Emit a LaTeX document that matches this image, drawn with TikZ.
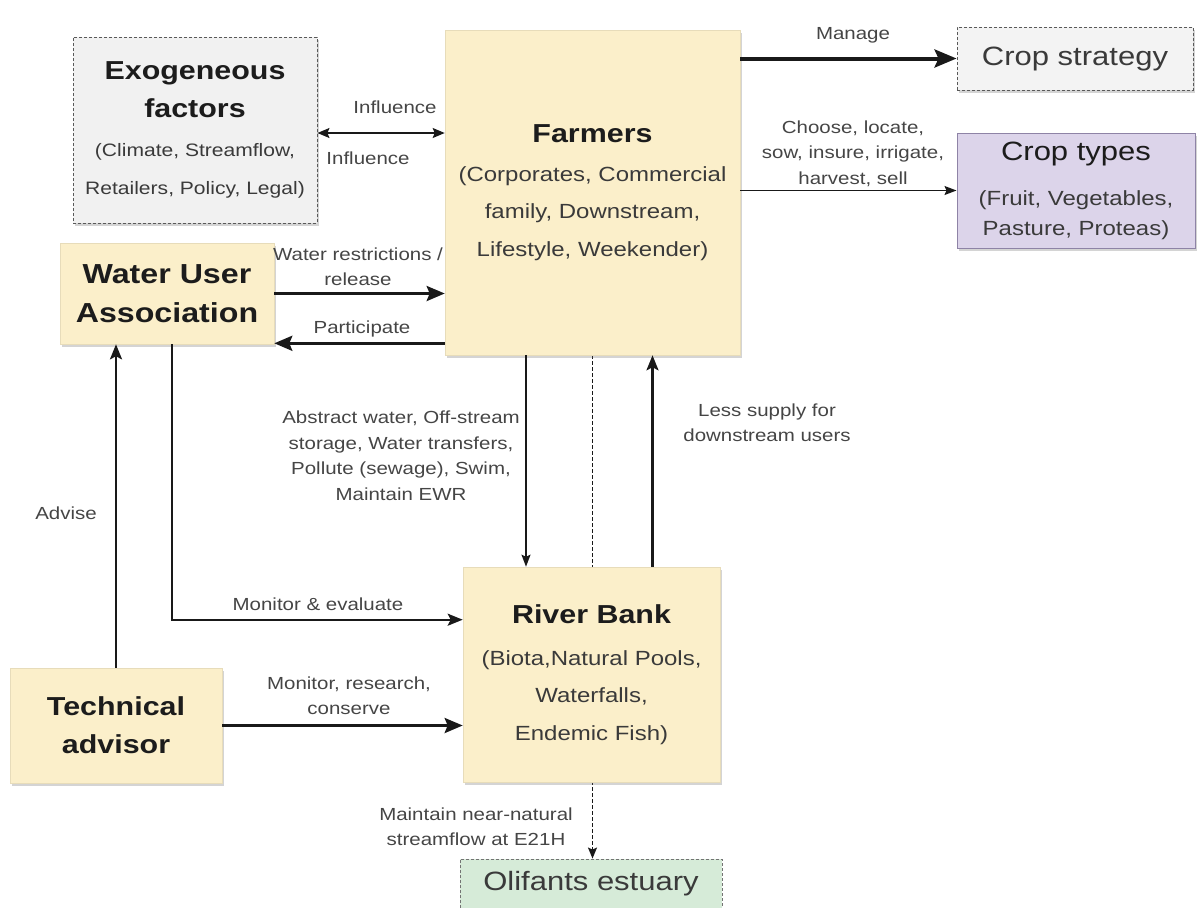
\documentclass[tikz,border=0pt]{standalone}
\usepackage{fontspec}
\setmainfont{Liberation Sans}[FakeStretch=1.17]
\usetikzlibrary{arrows.meta,calc,shadows,backgrounds}
\definecolor{boxyellow}{HTML}{FBEFCA}
\definecolor{boxgray}{HTML}{F1F1F1}
\definecolor{boxlilac}{HTML}{DCD4EA}
\definecolor{lilacline}{HTML}{8E83A6}
\definecolor{boxgreen}{HTML}{D6EBD8}
\definecolor{inktitle}{HTML}{1C1C1C}
\definecolor{inkbody}{HTML}{3A3A3A}
\definecolor{inklabel}{HTML}{454545}
\newcommand\ttlfont{\fontsize{26}{30}\selectfont\bfseries}
\newcommand\bigplain{\fontsize{26.5}{30}\selectfont}
\begin{document}
\begin{tikzpicture}[x=1pt,y=-1pt,
  box/.style={rectangle, inner sep=0pt, align=center, text=inkbody},
  shade box/.style={drop shadow={shadow xshift=2pt, shadow yshift=-3pt, opacity=0.28, fill=black!60}},
  yellowbox/.style={box, fill=boxyellow, draw=boxyellow!92!black, line width=0.6pt, shade box},
  dashbox/.style={box, draw=black!65, line width=0.9pt, dash pattern=on 3pt off 2pt, shade box},
  lbl/.style={text=inklabel, align=center, inner sep=0pt, font=\fontsize{17.5}{25.5}\selectfont},
  thin/.style={draw=black!90, line width=1.4pt, -{Stealth[length=12pt, width=9pt, inset=2pt]}},
  mid/.style={draw=black!90, line width=2.2pt, -{Stealth[length=15pt, width=12pt, inset=3pt]}},
  thick/.style={draw=black!90, line width=3pt, -{Stealth[length=18pt, width=15pt, inset=3pt]}},
  heavy/.style={draw=black!90, line width=4pt, -{Stealth[length=22pt, width=18pt, inset=4pt]}}
]
\useasboundingbox (0,0) rectangle (1200,908);

% boxes
\node[dashbox, fill=boxgray, minimum width=244pt, minimum height=186pt,
      font=\fontsize{18}{38}\selectfont] (exo) at (195,130)
  {{\ttlfont\color{inktitle}Exogeneous}\\{\ttlfont\color{inktitle}factors}\\[1pt]
   (Climate, Streamflow,\\Retailers, Policy, Legal)};
\node[yellowbox, minimum width=295pt, minimum height=325pt,
      font=\fontsize{20.5}{37.5}\selectfont] (farmers) at (592.5,192.5)
  {{\ttlfont\color{inktitle}Farmers}\\[1.5pt](Corporates, Commercial\\family, Downstream,\\Lifestyle, Weekender)};
\node[dashbox, fill=boxgray!85!white, minimum width=236pt, minimum height=63pt,
      font=\bigplain] (strat) at (1075,58.5) {Crop strategy};
\node[box, fill=boxlilac, draw=lilacline, line width=1pt, shade box,
      minimum width=238pt, minimum height=115pt,
      font=\fontsize{20.5}{30}\selectfont] (types) at (1076,190.5)
  {{\bigplain\color{inktitle}Crop types}\\[15pt](Fruit, Vegetables,\\Pasture, Proteas)};
\node[yellowbox, minimum width=214pt, minimum height=101pt,
      font=\fontsize{27.5}{39}\selectfont\bfseries, text=inktitle] (wua) at (167,293.5)
  {Water User\\Association};
\node[yellowbox, minimum width=257pt, minimum height=215pt,
      font=\fontsize{20.5}{37.5}\selectfont] (rb) at (591.5,674.5)
  {{\ttlfont\color{inktitle}River Bank}\\[4.5pt](Biota,Natural Pools,\\Waterfalls,\\Endemic Fish)};
\node[yellowbox, minimum width=212pt, minimum height=115pt,
      font=\fontsize{26}{38}\selectfont\bfseries, text=inktitle] (tech) at (116,725.5)
  {Technical\\advisor};
\node[box, fill=boxgreen, draw=black!55, line width=0.9pt, dash pattern=on 3pt off 2pt,
      minimum width=262pt, minimum height=50pt, font=\bigplain] (olif) at (591,884)
  {Olifants estuary};

% the dashed flow line passes behind the river bank box
\begin{pgfonlayer}{background}
  \draw[draw=black!90, line width=1.5pt, dash pattern=on 3.5pt off 2.5pt,
        -{Stealth[length=11pt, width=9pt, inset=2pt]}]
    (farmers.south) -- (olif.north -| farmers.south);
\end{pgfonlayer}

% connectors
\draw[draw=black!90, line width=1.4pt, {Stealth[length=12pt, width=10pt, inset=2pt]}-{Stealth[length=12pt, width=10pt, inset=2pt]}]
  ($(exo.east)+(0,3)$) -- ($(farmers.west |- exo.east)+(0,3)$);
\draw[heavy] (farmers.east |- strat.west) -- (strat.west);
\draw[thin] (farmers.east |- types.west) -- (types.west);
\draw[thick] (wua.east) -- (farmers.west |- wua.east);
\draw[thick] ($(farmers.south west)+(0,-12)$) -- ($(wua.east |- farmers.south west)+(0,-12)$);
\draw[thin] ($(farmers.south)+(-66.5,0)$) -- ($(rb.north -| farmers.south)+(-66.5,0)$);
\draw[mid] ($(rb.north)+(61,0)$) -- ($(farmers.south -| rb.north)+(61,0)$);
\draw[mid] ($(wua.south)+(5,0)$) |- ($(rb.north west)+(0,53)$);
\draw[mid] (tech.north) -- (wua.south -| tech.north);
\draw[thick] (tech.east) -- (rb.west |- tech.east);

% connector labels
\node[lbl] (l-inf1) at (395,107) {Influence};
\node[lbl] (l-inf2) at (368,158) {Influence};
\node[lbl] (l-manage) at (853,35) {Manage};
\node[lbl] (l-choose) at (853,153.5) {Choose, locate,\\sow, insure, irrigate,\\harvest, sell};
\node[lbl] (l-water) at (358,266.5) {Water restrictions /\\release};
\node[lbl] (l-part) at (362,329) {Participate};
\node[lbl] (l-abstract) at (401,455.5) {Abstract water, Off-stream\\storage, Water transfers,\\Pollute (sewage), Swim,\\Maintain EWR};
\node[lbl] (l-less) at (767,422.5) {Less supply for\\downstream users};
\node[lbl] (l-monev) at (318,604) {Monitor \& evaluate};
\node[lbl] (l-advise) at (66,513) {Advise};
\node[lbl] (l-monres) at (349,695.5) {Monitor, research,\\conserve};
\node[lbl] (l-maintain) at (476,826.5) {Maintain near-natural\\streamflow at E21H};
\end{tikzpicture}
\end{document}
